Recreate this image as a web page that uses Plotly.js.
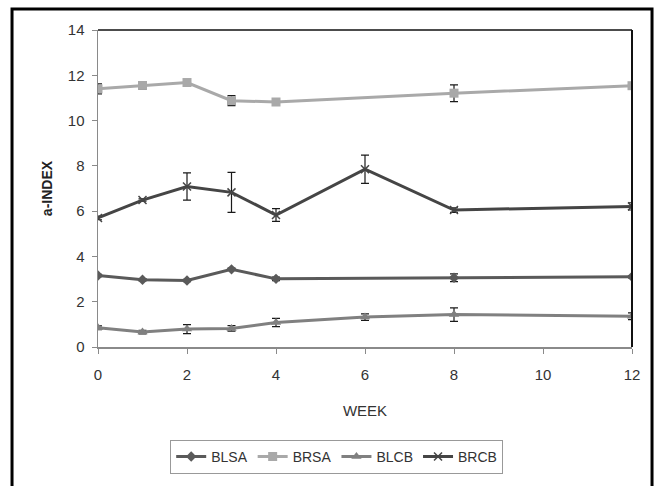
<!DOCTYPE html>
<html>
<head>
<meta charset="utf-8">
<script src="https://cdn.plot.ly/plotly-3.0.1.min.js"></script>
<style>
  html, body { margin: 0; padding: 0; background: #fff; }
  #chart { width: 654px; height: 486px; }
</style>
</head>
<body>
<div id="chart"></div>
<script>
// Data
var weeksSA = [0, 1, 2, 3, 4, 8, 12];
var weeksCB = [0, 1, 2, 3, 4, 6, 8, 12];

var blsa = [3.16, 2.97, 2.94, 3.43, 3.01, 3.06, 3.10];
var blsaErr = [0.05, 0.05, 0.05, 0.05, 0.08, 0.17, 0.05];

var brsa = [11.40, 11.55, 11.68, 10.88, 10.82, 11.21, 11.54];
var brsaErr = [0.22, 0.17, 0.08, 0.22, 0.08, 0.37, 0.08];

var blcb = [0.85, 0.66, 0.79, 0.82, 1.08, 1.32, 1.43, 1.36];
var blcbErr = [0.08, 0.08, 0.2, 0.12, 0.18, 0.14, 0.3, 0.15];

var brcb = [5.70, 6.49, 7.09, 6.83, 5.83, 7.85, 6.05, 6.21];
var brcbErr = [0.08, 0.05, 0.6, 0.88, 0.28, 0.62, 0.1, 0.16];

var seriesNames = ['BLSA', 'BRSA', 'BLCB', 'BRCB'];
var xTicks = [0, 2, 4, 6, 8, 10, 12];
var yTicks = [0, 2, 4, 6, 8, 10, 12, 14];

function errBar(arr) {
  return {type: 'data', array: arr, visible: true, color: '#1a1a1a', thickness: 1.2, width: 4};
}

var traces = [
  {x: weeksSA, y: blsa, name: seriesNames[0], mode: 'lines+markers', error_y: errBar(blsaErr),
   line: {color: '#5a5a5a', width: 3}, marker: {symbol: 'diamond', size: 8, color: '#5a5a5a'}},
  {x: weeksSA, y: brsa, name: seriesNames[1], mode: 'lines+markers', error_y: errBar(brsaErr),
   line: {color: '#a9a9a9', width: 3}, marker: {symbol: 'square', size: 9, color: '#a9a9a9'}},
  {x: weeksCB, y: blcb, name: seriesNames[2], mode: 'lines+markers', error_y: errBar(blcbErr),
   line: {color: '#808080', width: 3}, marker: {symbol: 'triangle-up', size: 9, color: '#808080'}},
  {x: weeksCB, y: brcb, name: seriesNames[3], mode: 'lines+markers', error_y: errBar(brcbErr),
   line: {color: '#454545', width: 3}, marker: {symbol: 'x-thin-open', size: 8, color: '#454545', line: {width: 1.5, color: '#454545'}}}
];

var fontFam = '"Liberation Sans Narrow", "Liberation Sans", Arial, sans-serif';

var layout = {
  width: 654, height: 486,
  margin: {l: 98, r: 22, t: 30, b: 137},
  paper_bgcolor: '#fff', plot_bgcolor: '#fff',
  font: {family: fontFam, size: 14, color: '#333'},
  showlegend: true,
  legend: {
    orientation: 'h', x: 0.447, xanchor: 'center', y: -0.293, yanchor: 'top',
    bordercolor: '#999', borderwidth: 1, bgcolor: '#fff',
    font: {family: fontFam, size: 14, color: '#333'},
    itemwidth: 30, traceorder: 'normal'
  },
  xaxis: {
    range: [0, 12], tickvals: xTicks, ticktext: xTicks.map(String),
    showgrid: false, zeroline: false, showline: true, linecolor: '#8a8a8a', linewidth: 1.5,
    ticks: 'outside', ticklen: 5, tickcolor: '#8a8a8a', ticklabelstandoff: 8,
    tickfont: {family: fontFam, size: 15, color: '#333'},
    title: {text: 'WEEK', font: {family: fontFam, size: 15, color: '#333'}, standoff: 24}
  },
  yaxis: {
    range: [0, 14], tickvals: yTicks, ticktext: yTicks.map(String),
    showgrid: false, zeroline: false, showline: true, linecolor: '#8a8a8a', linewidth: 1.5,
    ticks: 'outside', ticklen: 5, tickcolor: '#8a8a8a', ticklabelstandoff: 4,
    tickfont: {family: fontFam, size: 15, color: '#333'},
    title: {text: '<b>a-INDEX</b>', font: {family: fontFam, size: 14, color: '#222'}, standoff: 12}
  },
  shapes: [
    {type: 'line', xref: 'paper', yref: 'paper', x0: 0, x1: 1, y0: 1, y1: 1, line: {color: '#111', width: 1.5}},
    {type: 'line', xref: 'paper', yref: 'paper', x0: 1, x1: 1, y0: 0, y1: 1, line: {color: '#111', width: 2}},
    {type: 'rect', xref: 'paper', yref: 'paper', x0: -0.161, x1: 1.0375, y0: -0.45, y1: 1.066,
     line: {color: '#000', width: 3}, fillcolor: 'rgba(0,0,0,0)', layer: 'below'}
  ]
};

Plotly.newPlot('chart', traces, layout, {displayModeBar: false, staticPlot: true});
</script>
</body>
</html>
